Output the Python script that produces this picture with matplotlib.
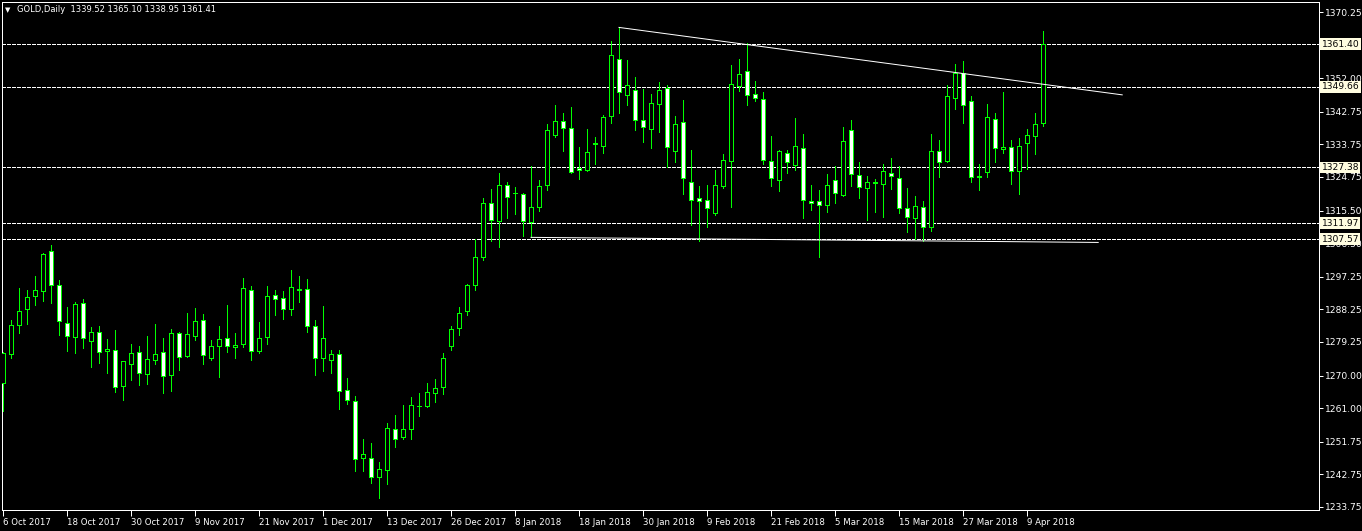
import matplotlib
matplotlib.use("Agg")
import matplotlib.pyplot as plt
import matplotlib.transforms as mtransforms
import numpy as np

# GOLD daily candles, 6 Oct 2017 .. 11 Apr 2018
opens = [1267.9, 1275.8, 1284.0, 1288.3, 1291.8, 1293.2, 1304.3, 1294.9, 1284.6, 1280.5,
         1289.9, 1279.4, 1281.9, 1276.7, 1277.0, 1267.0, 1273.1, 1276.4, 1270.3, 1274.2,
         1276.4, 1270.1, 1281.6, 1275.3, 1280.8, 1285.2, 1274.7, 1278.1, 1280.3, 1277.8,
         1278.6, 1293.5, 1276.7, 1280.5, 1292.1, 1291.3, 1288.3, 1293.5, 1293.8, 1283.6,
         1274.7, 1274.2, 1275.8, 1265.9, 1262.9, 1247.2, 1247.2, 1241.9, 1243.9, 1255.2,
         1253.0, 1255.2, 1261.5, 1261.5, 1265.1, 1266.7, 1278.1, 1283.0, 1287.7, 1294.9,
         1302.6, 1317.5, 1312.5, 1322.5, 1320.2, 1320.0, 1312.3, 1316.4, 1322.5, 1336.2,
         1340.1, 1338.2, 1327.1, 1326.6, 1333.9, 1333.2, 1341.5, 1357.2, 1347.3, 1348.7,
         1340.4, 1337.9, 1344.8, 1349.2, 1331.8, 1339.8, 1323.3, 1318.9, 1318.3, 1314.7,
         1322.2, 1329.1, 1349.8, 1353.9, 1347.6, 1346.2, 1329.1, 1323.8, 1331.3, 1328.0,
         1332.7, 1318.0, 1318.0, 1316.9, 1323.8, 1319.7, 1337.6, 1325.2, 1321.6, 1323.2,
         1322.7, 1325.8, 1324.4, 1316.1, 1313.4, 1316.4, 1310.9, 1331.8, 1329.1, 1346.5,
         1353.3, 1345.6, 1324.8, 1326.0, 1340.7, 1332.4, 1332.9, 1326.3, 1334.0, 1336.0,
         1339.52]
highs = [1276.5, 1285.3, 1294.1, 1293.5, 1297.4, 1303.7, 1306.0, 1296.3, 1288.8, 1290.2,
         1291.0, 1283.3, 1283.6, 1280.0, 1282.5, 1274.0, 1278.6, 1278.1, 1280.8, 1284.1,
         1280.3, 1282.8, 1281.9, 1287.2, 1288.5, 1286.9, 1279.7, 1283.6, 1289.4, 1281.6,
         1296.8, 1294.6, 1284.7, 1294.6, 1293.5, 1293.2, 1299.0, 1297.4, 1296.5, 1285.2,
         1289.1, 1277.0, 1277.0, 1269.2, 1264.3, 1252.4, 1251.3, 1246.1, 1256.8, 1259.0,
         1261.8, 1264.0, 1265.1, 1267.9, 1269.0, 1276.1, 1283.6, 1288.8, 1295.2, 1307.6,
         1318.9, 1321.4, 1325.8, 1323.3, 1321.9, 1320.3, 1327.7, 1323.8, 1339.3, 1344.5,
         1342.3, 1344.0, 1332.9, 1337.9, 1335.7, 1341.8, 1362.2, 1366.0, 1356.9, 1352.2,
         1348.9, 1347.6, 1350.9, 1350.0, 1341.5, 1345.9, 1332.1, 1322.2, 1322.5, 1326.6,
         1331.0, 1355.6, 1357.2, 1361.6, 1351.1, 1348.1, 1336.0, 1332.1, 1332.1, 1340.9,
         1336.5, 1322.5, 1321.1, 1325.5, 1327.7, 1338.5, 1340.4, 1328.8, 1324.9, 1324.1,
         1328.3, 1329.9, 1327.7, 1321.6, 1319.4, 1318.0, 1336.5, 1334.9, 1350.0, 1355.8,
         1356.7, 1347.0, 1328.3, 1344.8, 1342.3, 1348.1, 1334.9, 1335.4, 1337.9, 1342.3,
         1365.10]
lows = [1260.3, 1274.9, 1281.8, 1284.3, 1289.5, 1290.6, 1290.1, 1281.3, 1276.8, 1276.3,
        1277.7, 1272.4, 1273.5, 1270.8, 1265.5, 1263.3, 1268.8, 1267.5, 1267.7, 1273.1,
        1265.3, 1265.8, 1271.6, 1275.0, 1279.7, 1273.3, 1274.2, 1269.7, 1276.6, 1274.9,
        1277.9, 1274.4, 1276.1, 1278.8, 1286.8, 1285.5, 1286.6, 1290.4, 1281.9, 1270.2,
        1271.3, 1270.8, 1260.9, 1262.2, 1243.7, 1243.7, 1240.4, 1236.3, 1240.0, 1250.4,
        1252.6, 1252.6, 1258.9, 1261.2, 1262.6, 1264.8, 1276.9, 1281.1, 1286.8, 1293.7,
        1301.9, 1307.2, 1305.5, 1313.5, 1314.6, 1308.6, 1308.1, 1315.5, 1321.2, 1335.7,
        1331.8, 1325.8, 1324.1, 1326.3, 1328.3, 1331.3, 1339.6, 1342.3, 1344.5, 1337.6,
        1334.3, 1332.7, 1337.1, 1327.4, 1328.8, 1320.0, 1311.4, 1307.0, 1310.9, 1314.2,
        1321.6, 1316.6, 1348.4, 1344.7, 1345.6, 1328.3, 1322.2, 1320.8, 1325.8, 1326.6,
        1313.4, 1315.6, 1302.6, 1315.0, 1317.5, 1319.4, 1322.2, 1318.9, 1312.8, 1315.0,
        1313.6, 1321.4, 1314.7, 1309.5, 1307.6, 1307.0, 1309.8, 1324.7, 1328.8, 1343.4,
        1339.6, 1323.3, 1321.1, 1324.7, 1328.8, 1331.3, 1322.7, 1320.0, 1326.9, 1331.0,
        1338.95]
closes = [1276.3, 1283.8, 1287.7, 1291.6, 1293.5, 1303.4, 1294.9, 1285.0, 1280.8, 1289.6,
          1280.3, 1281.9, 1276.4, 1277.2, 1266.7, 1273.9, 1276.1, 1270.6, 1274.5, 1275.8,
          1269.8, 1281.6, 1275.0, 1281.4, 1285.0, 1275.6, 1278.1, 1280.0, 1278.1, 1278.3,
          1294.1, 1276.7, 1280.3, 1291.8, 1291.0, 1288.3, 1294.3, 1293.8, 1283.6, 1274.7,
          1280.3, 1275.8, 1265.6, 1263.2, 1246.9, 1248.3, 1241.9, 1244.1, 1255.4, 1252.4,
          1255.2, 1261.8, 1261.6, 1265.4, 1266.5, 1274.7, 1282.7, 1287.2, 1295.0, 1302.6,
          1317.5, 1312.8, 1322.5, 1319.1, 1320.3, 1312.5, 1316.4, 1322.2, 1337.6, 1340.1,
          1338.2, 1326.0, 1326.6, 1331.6, 1334.0, 1341.2, 1358.3, 1348.1, 1350.0, 1340.4,
          1338.5, 1345.1, 1348.7, 1332.9, 1339.3, 1324.4, 1318.3, 1318.0, 1316.1, 1322.5,
          1329.4, 1350.3, 1353.1, 1347.3, 1346.5, 1329.4, 1324.4, 1331.8, 1328.8, 1333.2,
          1318.3, 1317.5, 1316.9, 1322.5, 1320.3, 1334.6, 1325.5, 1321.9, 1323.3, 1323.3,
          1326.3, 1324.9, 1316.1, 1313.6, 1316.7, 1310.9, 1331.8, 1328.8, 1347.0, 1353.3,
          1344.5, 1324.7, 1324.9, 1341.2, 1332.7, 1332.9, 1326.3, 1333.2, 1336.2, 1339.3,
          1361.41]

date_labels = ['6 Oct 2017', '18 Oct 2017', '30 Oct 2017', '9 Nov 2017', '21 Nov 2017',
               '1 Dec 2017', '13 Dec 2017', '26 Dec 2017', '8 Jan 2018', '18 Jan 2018',
               '30 Jan 2018', '9 Feb 2018', '21 Feb 2018', '5 Mar 2018', '15 Mar 2018',
               '27 Mar 2018', '9 Apr 2018']
price_ticks = [1370.25, 1352.00, 1342.75, 1333.75, 1324.75, 1315.50, 1306.50, 1297.25,
               1288.25, 1279.25, 1270.00, 1261.00, 1251.75, 1242.75, 1233.75]
levels = [1361.40, 1349.66, 1327.38, 1311.97, 1307.57]

# hand drawn trend lines (bar index, price)
top_line_x = [77, 139.9]
top_line_y = [1366.0, 1347.4]
bottom_line_x = [66, 136.9]
bottom_line_y = [1308.1, 1306.7]

GREEN = '#00ff00'
W, H = 1362, 531
fig = plt.figure(figsize=(W / 100, H / 100), dpi=100, facecolor='black')
ax = fig.add_axes([2 / W, 1 - 510 / H, (1319 - 2) / W, (510 - 2) / H])
ax.set_facecolor('black')

px = 1.0 / 100 * 72  # one pixel in points
x = np.arange(len(opens))
o = np.array(opens)
c = np.array(closes)

# wicks
ax.vlines(x, lows, highs, color=GREEN, lw=px, zorder=2, antialiased=False)

# bodies: bull = black, bear = white
bottoms = np.minimum(o, c)
heights = np.maximum(np.abs(c - o), 0.08)
faces = ['black' if cc >= oo else 'white' for oo, cc in zip(o, c)]
bars = ax.bar(x, heights, bottom=bottoms, width=0.5, color=faces, edgecolor=GREEN,
              linewidth=px, zorder=3)
for b in bars:
    b.set_antialiased(False)

# horizontal levels
for lv in levels:
    ax.axhline(lv, color='white', lw=px, linestyle=(0, (3, 2)), zorder=1,
               antialiased=False)

# trend lines
ax.plot(top_line_x, top_line_y, color='white', lw=px, zorder=4)
ax.plot(bottom_line_x, bottom_line_y, color='white', lw=px, zorder=4)

ax.set_xlim(-0.125, 164.5)
ax.set_ylim(1232.91, 1373.01)

for s in ax.spines.values():
    s.set_color('white')
    s.set_linewidth(px)

# x axis
ax.set_xticks(np.arange(0, len(opens), 8))
ax.set_xticklabels(date_labels, ha='left')
ax.tick_params(axis='x', colors='white', labelsize=6.2, length=4, width=px, pad=1.5)

# y axis on the right
ax.yaxis.tick_right()
ax.set_yticks(price_ticks)
ax.set_yticklabels([f'{v:.2f}' for v in price_ticks])
ax.tick_params(axis='y', colors='white', labelsize=6.6, length=3, width=px, pad=1.5)

trans = mtransforms.blended_transform_factory(ax.transAxes, ax.transData)
for lv in levels:
    ax.text(1.0 + 2.5 / 1317, lv, f'{lv:.2f}', transform=trans, fontsize=6.6,
            color='black', ha='left', va='center', clip_on=False, zorder=10,
            bbox=dict(boxstyle='square,pad=0.15', facecolor='#fffde0', edgecolor='none'))

# header
fig.text(5 / W, 1 - 10 / H, '\u25bc', color='white', fontsize=5, va='center', ha='left')
fig.text(17 / W, 1 - 10 / H, 'GOLD,Daily  1339.52 1365.10 1338.95 1361.41',
         color='white', fontsize=6.0, va='center', ha='left')

fig.savefig('out.png', dpi=100, facecolor='black')
